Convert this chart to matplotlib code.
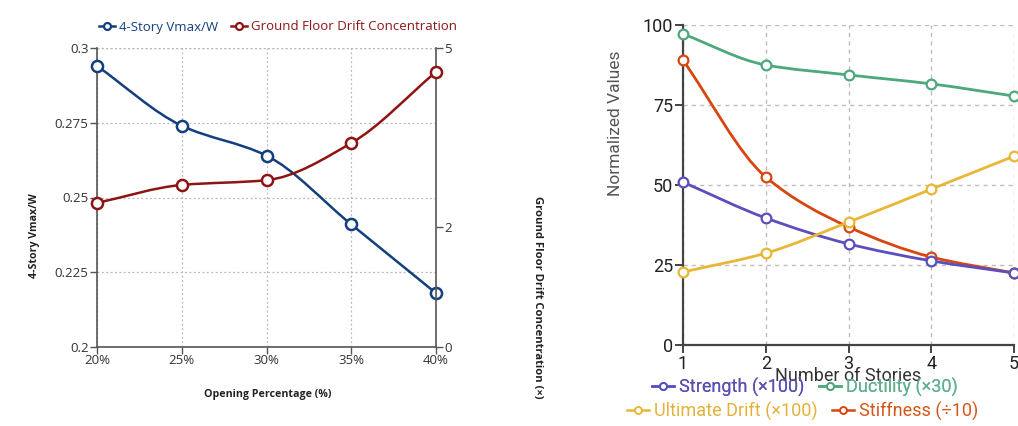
import numpy as np
import matplotlib
matplotlib.use("Agg")
import matplotlib.pyplot as plt
from matplotlib.path import Path
from matplotlib.patches import PathPatch
from matplotlib.lines import Line2D
from matplotlib.ticker import FixedLocator, FixedFormatter

# ---- data: opening percentage study ----
opening_pct = [20, 25, 30, 35, 40]
opening_labels = ["20%", "25%", "30%", "35%", "40%"]
vmax_w = [0.294, 0.274, 0.264, 0.241, 0.218]
drift_conc = [2.41, 2.71, 2.79, 3.41, 4.60]

# ---- data: number of stories study ----
stories = [1, 2, 3, 4, 5]
strength = [50.9, 39.7, 31.6, 26.3, 22.5]
ductility = [97.2, 87.5, 84.4, 81.6, 77.8]
ult_drift = [22.8, 28.7, 38.4, 48.7, 59.0]
stiffness = [89.0, 52.5, 36.9, 27.5, 22.5]


def monotone_path(x, y):
    """Monotone cubic (Fritsch-Carlson) curve through the points as Bezier path."""
    x = np.asarray(x, float)
    y = np.asarray(y, float)
    n = len(x)
    h = np.diff(x)
    d = np.diff(y) / h
    m = np.zeros(n)
    m[0], m[-1] = d[0], d[-1]
    for i in range(1, n - 1):
        if d[i - 1] * d[i] <= 0:
            m[i] = 0
        else:
            w1 = 2 * h[i] + h[i - 1]
            w2 = h[i] + 2 * h[i - 1]
            m[i] = (w1 + w2) / (w1 / d[i - 1] + w2 / d[i])
    verts = [(x[0], y[0])]
    codes = [Path.MOVETO]
    for i in range(n - 1):
        dx = h[i] / 3
        verts += [(x[i] + dx, y[i] + m[i] * dx),
                  (x[i + 1] - dx, y[i + 1] - m[i + 1] * dx),
                  (x[i + 1], y[i + 1])]
        codes += [Path.CURVE4] * 3
    return Path(verts, codes)


def smooth_series(ax, x, y, color, lw, ms, mew):
    ax.add_patch(PathPatch(monotone_path(x, y), fill=False, edgecolor=color,
                           lw=lw, zorder=3, capstyle="round", joinstyle="round"))
    ax.plot(x, y, ls="none", marker="o", ms=ms, mfc="white", mec=color,
            mew=mew, zorder=4, clip_on=False)


W, H = 1018, 426
fig = plt.figure(figsize=(W / 100, H / 100), dpi=100)
fig.patch.set_facecolor("white")


def px(x, y):
    """Pixel position (from top-left) to figure fraction."""
    return x / W, 1 - y / H


# ================= left panel =================
lfont = "Open Sans"
blue = "#143f7e"
red = "#8e1414"
axL = fig.add_axes([97 / W, 1 - 347 / H, (436 - 97) / W, (347 - 48) / H])
axL.set_xlim(20, 40)
axL.set_ylim(0.2, 0.3)
axR = axL.twinx()
axR.set_ylim(0, 5)

for a in (axL, axR):
    for s in a.spines.values():
        s.set_visible(False)
axL.spines["left"].set_visible(True)
axL.spines["bottom"].set_visible(True)
axR.spines["right"].set_visible(True)
for a, s in ((axL, "left"), (axL, "bottom"), (axR, "right")):
    a.spines[s].set_color("#555555")
    a.spines[s].set_linewidth(1.2)

axL.set_xticks(opening_pct)
axL.set_xticklabels(opening_labels)
axL.yaxis.set_major_locator(FixedLocator([0.2, 0.225, 0.25, 0.275, 0.3]))
axL.yaxis.set_major_formatter(FixedFormatter(["0.2", "0.225", "0.25", "0.275", "0.3"]))
axR.set_yticks([0, 2, 5])
axR.set_yticklabels(["0", "2", "5"])
for a in (axL, axR):
    a.tick_params(length=5, width=1, color="#555555", labelsize=9.5,
                  labelcolor="#333333", pad=1)
    for lab in a.get_xticklabels() + a.get_yticklabels():
        lab.set_fontfamily(lfont)
axL.tick_params(axis="x", pad=0)

axL.grid(True, ls=(0, (1.5, 2)), color="#b8b8b8", lw=0.9)
axL.axhline(0.3, ls=(0, (1.5, 2)), color="#b8b8b8", lw=0.9, zorder=1)
axL.set_axisbelow(True)

smooth_series(axL, opening_pct, vmax_w, blue, 1.8, 8, 1.8)
smooth_series(axR, opening_pct, drift_conc, red, 1.8, 8, 1.8)

lab_kw = dict(fontfamily=lfont, fontweight="bold", color="#222222",
              ha="center", va="center")
fig.text(*px(268, 395), "Opening Percentage (%)", fontsize=7.7, **lab_kw)
fig.text(*px(35, 236), "4-Story Vmax/W", fontsize=7.7, rotation=90, **lab_kw)
fig.text(*px(537, 297), "Ground Floor Drift Concentration (×)", fontsize=8.1,
         rotation=-90, **lab_kw)

hL = [Line2D([], [], color=blue, lw=1.8, marker="o", ms=5, mfc="white", mec=blue, mew=1.6),
      Line2D([], [], color=red, lw=1.8, marker="o", ms=5, mfc="white", mec=red, mew=1.6)]
legL = fig.legend(hL, ["4-Story Vmax/W", "Ground Floor Drift Concentration"],
                  loc="center", bbox_to_anchor=px(278, 27), ncol=2,
                  frameon=False, handlelength=1.2, handletextpad=0.3,
                  columnspacing=1.0, prop={"family": lfont, "size": 9.5})
for t, c in zip(legL.get_texts(), [blue, red]):
    t.set_color(c)

# ================= right panel =================
rfont = "Roboto"
purple = "#5a4fbd"
green = "#4ea87d"
yellow = "#e8b735"
orange = "#d8450f"
ax2 = fig.add_axes([683 / W, 1 - 345 / H, (1014 - 683) / W, (345 - 25) / H])
ax2.set_xlim(1, 5)
ax2.set_ylim(0, 100)
for s in ("top", "right"):
    ax2.spines[s].set_visible(False)
for s in ("left", "bottom"):
    ax2.spines[s].set_color("#444444")
    ax2.spines[s].set_linewidth(1.6)
ax2.set_xticks(stories)
ax2.set_yticks([0, 25, 50, 75, 100])
ax2.tick_params(length=6, width=1.4, color="#444444", labelsize=13,
                labelcolor="#222222", pad=1)
for lab in ax2.get_xticklabels() + ax2.get_yticklabels():
    lab.set_fontfamily(rfont)
ax2.grid(True, ls=(0, (3, 3)), color="#bdbdbd", lw=1.0)
ax2.set_axisbelow(True)

for ys, c in ((ductility, green), (stiffness, orange), (strength, purple), (ult_drift, yellow)):
    smooth_series(ax2, stories, ys, c, 2.0, 7, 1.6)

ax2.set_xlabel("Number of Stories", fontfamily=rfont, fontsize=13,
               color="#333333", labelpad=-4)
fig.text(*px(616, 123), "Normalized Values", fontfamily=rfont, fontsize=12.5,
         color="#555555", rotation=90, ha="center", va="center")


def leg_handle(c):
    return Line2D([], [], color=c, lw=1.8, marker="o", ms=5, mfc="white", mec=c, mew=1.4)


leg1 = fig.legend([leg_handle(purple), leg_handle(green)],
                  ["Strength (×100)", "Ductility (×30)"],
                  loc="center", bbox_to_anchor=px(805, 387), ncol=2,
                  frameon=False, handlelength=1.2, handletextpad=0.3,
                  columnspacing=0.8, prop={"family": rfont, "size": 13})
for t, c in zip(leg1.get_texts(), ["#5a50b0", "#62b08f"]):
    t.set_color(c)
leg2 = fig.legend([leg_handle(yellow), leg_handle(orange)],
                  ["Ultimate Drift (×100)", "Stiffness (÷10)"],
                  loc="center", bbox_to_anchor=px(803, 411), ncol=2,
                  frameon=False, handlelength=1.2, handletextpad=0.3,
                  columnspacing=0.8, prop={"family": rfont, "size": 13})
for t, c in zip(leg2.get_texts(), ["#e2b23a", "#d4571a"]):
    t.set_color(c)
fig.add_artist(leg1)

fig.savefig("out.png", dpi=100)
